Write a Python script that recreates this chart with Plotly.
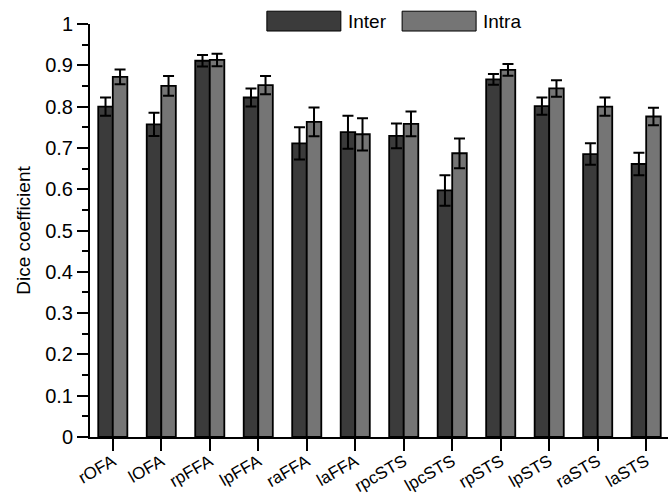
import plotly.graph_objects as go

regions = ["rOFA", "lOFA", "rpFFA", "lpFFA", "raFFA", "laFFA",
           "rpcSTS", "lpcSTS", "rpSTS", "lpSTS", "raSTS", "laSTS"]
inter = [0.800, 0.757, 0.911, 0.822, 0.711, 0.738, 0.729, 0.597, 0.866, 0.801, 0.685, 0.661]
inter_err = [0.022, 0.028, 0.014, 0.022, 0.039, 0.040, 0.030, 0.037, 0.013, 0.021, 0.026, 0.027]
intra = [0.872, 0.850, 0.913, 0.852, 0.763, 0.733, 0.758, 0.687, 0.889, 0.844, 0.800, 0.776]
intra_err = [0.018, 0.024, 0.015, 0.022, 0.035, 0.039, 0.030, 0.036, 0.014, 0.020, 0.022, 0.021]
y_ticks = [0, 0.1, 0.2, 0.3, 0.4, 0.5, 0.6, 0.7, 0.8, 0.9, 1]
y_ticklabels = ["0", "0.1", "0.2", "0.3", "0.4", "0.5", "0.6", "0.7", "0.8", "0.9", "1"]

c_inter = "#3b3b3b"
c_intra = "#757575"
font = "Arial, Liberation Sans, sans-serif"

fig = go.Figure()
for name, vals, errs, col in [("Inter", inter, inter_err, c_inter), ("Intra", intra, intra_err, c_intra)]:
    fig.add_trace(go.Bar(
        x=regions, y=vals, name=name,
        marker=dict(color=col, line=dict(color="black", width=1.8)),
        error_y=dict(type="data", array=errs, visible=True, color="black",
                     thickness=2, width=5.5),
        showlegend=False,
    ))

# legend drawn manually (wide rectangles like the reference)
for x0, label, col in [(0.306, "Inter", c_inter), (0.540, "Intra", c_intra)]:
    fig.add_shape(type="rect", xref="paper", yref="paper",
                  x0=x0, x1=x0 + 0.128, y0=0.983, y1=1.031,
                  fillcolor=col, line=dict(color="black", width=1))
    fig.add_annotation(xref="paper", yref="paper", x=x0 + 0.137, y=1.007,
                       text=label, showarrow=False, xanchor="left", yanchor="middle",
                       font=dict(size=19, color="black", family=font))

fig.update_layout(
    width=668, height=497,
    margin=dict(l=90, r=0, t=24, b=60),
    paper_bgcolor="white", plot_bgcolor="white",
    barmode="group", bargap=0.4, bargroupgap=0,
    font=dict(family=font, size=19, color="black"),
)
fig.update_xaxes(
    range=[-0.47, 11.45], showline=True, linecolor="black", linewidth=2,
    ticks="outside", ticklen=12, tickwidth=2, tickcolor="black",
    tickangle=-30, tickfont=dict(size=17), ticklabelstandoff=-6,
    showgrid=False, zeroline=False, automargin=False,
)
fig.update_yaxes(
    range=[0, 1], showline=True, linecolor="black", linewidth=2,
    tickmode="array", tickvals=y_ticks, ticktext=y_ticklabels,
    ticks="outside", ticklen=11, tickwidth=2, tickcolor="black",
    minor=dict(ticks="outside", ticklen=6, tickwidth=2, tickcolor="black", dtick=0.05),
    tickfont=dict(size=20), showgrid=False, zeroline=False, automargin=False,
    title=dict(text="Dice coefficient", font=dict(size=19), standoff=10),
)

fig.write_html("out.html")
